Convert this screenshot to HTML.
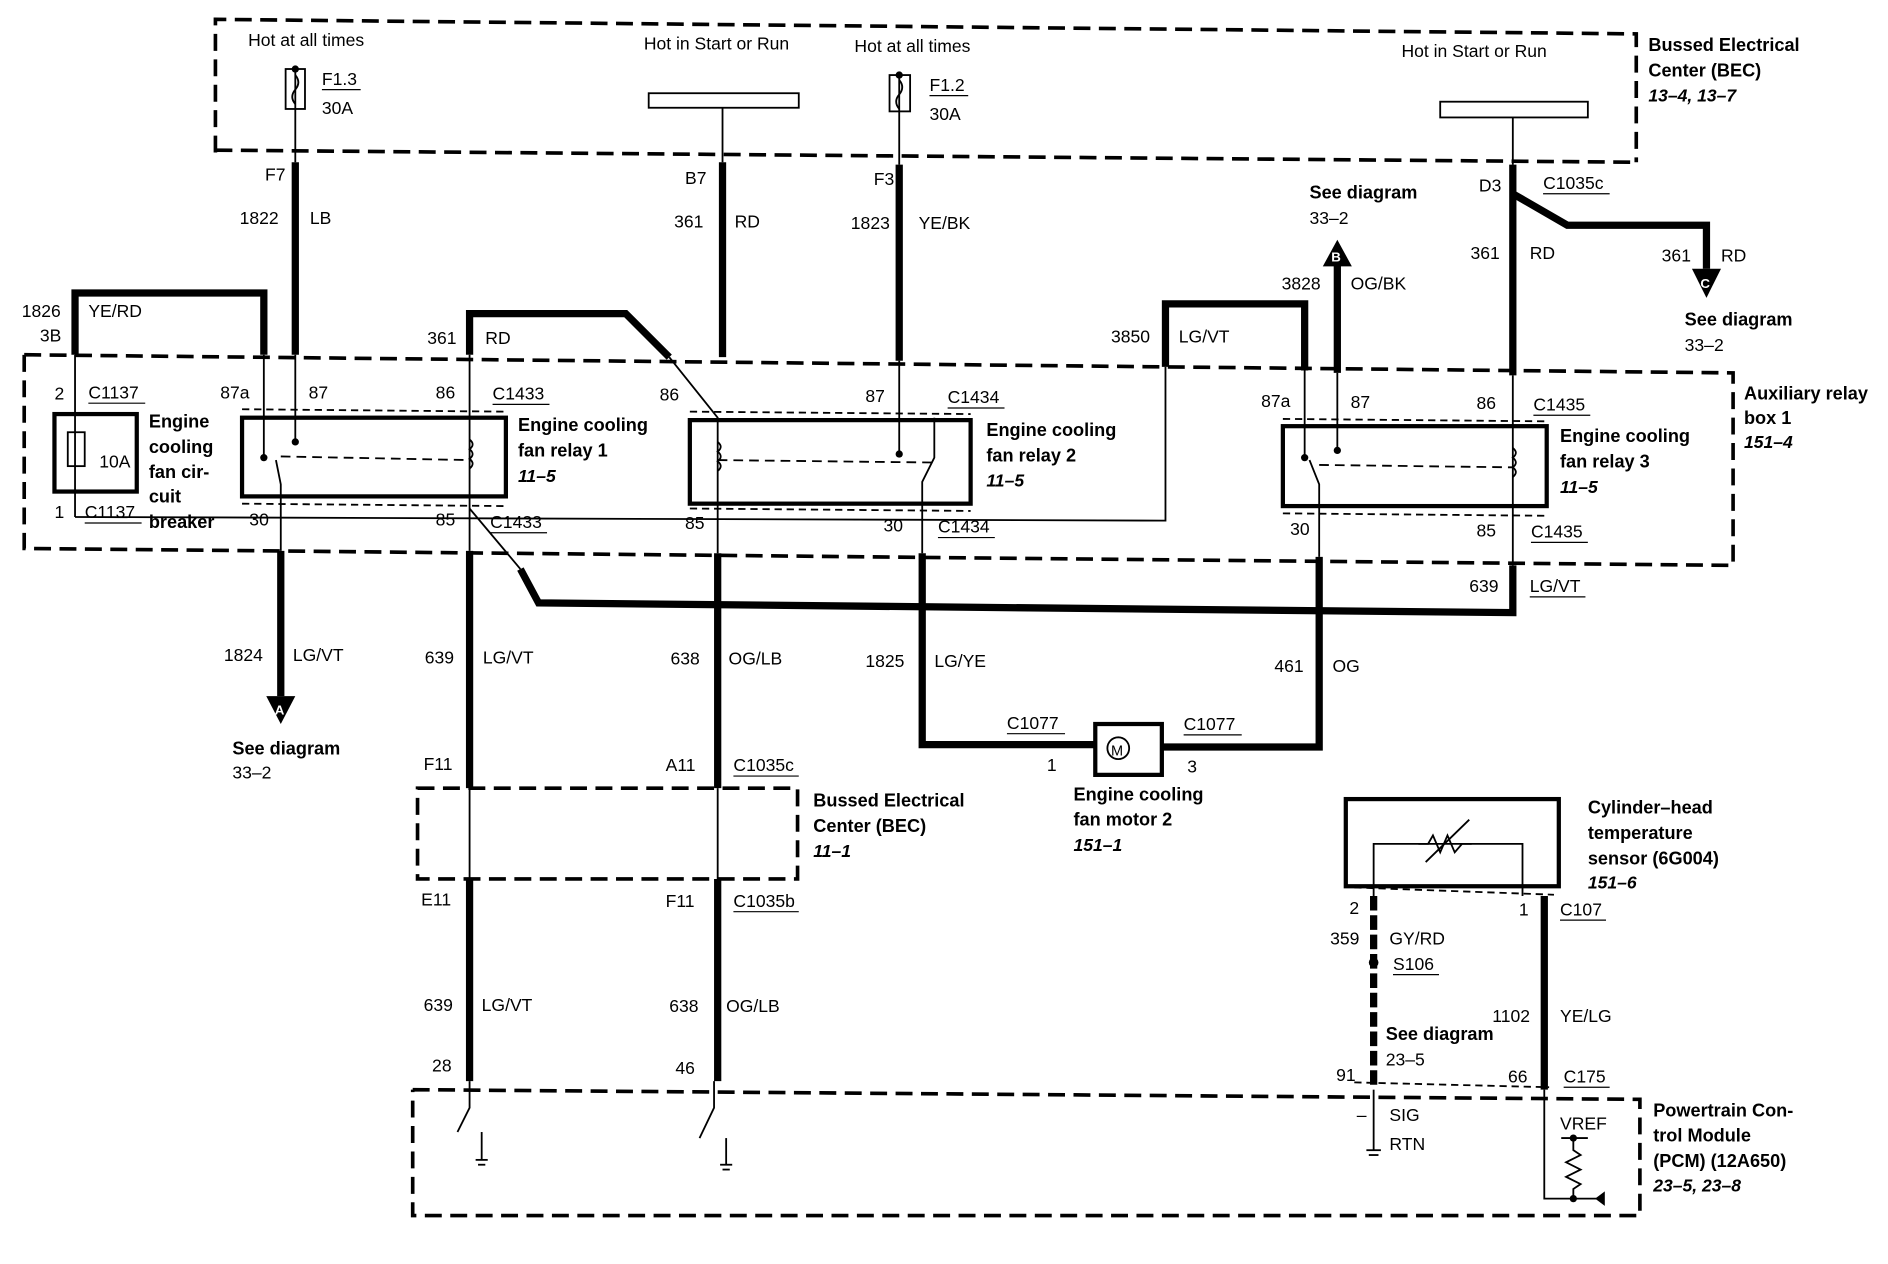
<!DOCTYPE html>
<html><head><meta charset="utf-8"><style>
html,body{margin:0;padding:0;background:#fff;}
svg{display:block;}
text{font-family:"Liberation Sans",sans-serif;font-size:14.5px;fill:#000;}
.b{font-weight:bold;font-size:15px;}
.bi{font-weight:bold;font-style:italic;font-size:14.5px;}
</style></head><body>
<svg width="1888" height="1264" viewBox="0 0 1560 1044" preserveAspectRatio="none" xmlns="http://www.w3.org/2000/svg">
<g fill="none" stroke="#000">
<!-- dashed boxes -->
<g stroke-width="3" stroke-dasharray="14,7">
<polyline points="178,126 178,16 1352,28 1352,134"/>
<polyline points="178,124 1352,134"/>
<polyline points="20,293 1432,308 1432,467 20,453 20,293"/>
<rect x="345" y="651" width="314" height="75"/>
<polyline points="341,900 1355,908 1355,1004 341,1004 341,900"/>
</g>
<!-- thick wires -->
<g stroke-width="6" stroke-linejoin="miter">
<line x1="244" y1="134" x2="244" y2="293"/>
<line x1="597" y1="134" x2="597" y2="295"/>
<line x1="743" y1="136" x2="743" y2="298"/>
<line x1="1250" y1="136" x2="1250" y2="310"/>
<polyline points="1250,160 1295,186 1410,186 1410,222"/>
<polyline points="62,293 62,242 218,242 218,293"/>
<polyline points="388,293 388,259 517,259 553,295"/>
<polyline points="963,303 963,251 1078,251 1078,306"/>
<line x1="1105" y1="218" x2="1105" y2="308"/>
<line x1="232" y1="455" x2="232" y2="575"/>
<line x1="388" y1="455" x2="388" y2="651"/>
<line x1="388" y1="726" x2="388" y2="893"/>
<line x1="593" y1="457" x2="593" y2="651"/>
<line x1="593" y1="726" x2="593" y2="893"/>
<polyline points="430,470 445,498 1250,506 1250,467"/>
<polyline points="762,457 762,615 905,615"/>
<polyline points="960,617 1090,617 1090,460"/>
<line x1="1276" y1="740" x2="1276" y2="900"/>
<line x1="1135" y1="740" x2="1135" y2="900" stroke-dasharray="12,4"/>
</g>
<!-- thin wires -->
<g stroke-width="1.5">
<line x1="244" y1="57" x2="244" y2="134"/>
<line x1="597" y1="89" x2="597" y2="134"/>
<line x1="743" y1="62" x2="743" y2="136"/>
<line x1="1250" y1="97" x2="1250" y2="136"/>
<line x1="244" y1="293" x2="244" y2="365"/>
<line x1="218" y1="293" x2="218" y2="378"/>
<polyline points="228,380 232,400 232,455"/>
<line x1="388" y1="293" x2="388" y2="455"/>
<line x1="62" y1="293" x2="62" y2="427"/>
<polyline points="62,427 963,430 963,303"/>
<polyline points="553,295 593,345 593,457"/>
<line x1="743" y1="298" x2="743" y2="375"/>
<polyline points="772,345 772,378 762,398 762,457"/>
<line x1="1078" y1="306" x2="1078" y2="378"/>
<polyline points="1082,380 1090,400 1090,460"/>
<line x1="1105" y1="308" x2="1105" y2="372"/>
<line x1="1250" y1="310" x2="1250" y2="467"/>
<polyline points="388,420 430,470"/>
<line x1="388" y1="651" x2="388" y2="726"/>
<line x1="593" y1="651" x2="593" y2="726"/>
<polyline points="388,893 388,915 378,935"/>
<polyline points="590,893 590,915 578,940"/>
<line x1="1135" y1="900" x2="1135" y2="950"/>
<polyline points="1276,900 1276,990 1325,990"/>
<polyline points="1135,740 1135,697 1258,697 1258,740"/>
<line x1="1119" y1="733" x2="1284" y2="739" stroke-dasharray="6,4"/>
<line x1="1119" y1="894" x2="1280" y2="898" stroke-dasharray="6,4"/>
<line x1="200" y1="338" x2="418" y2="340" stroke-dasharray="6,4"/>
<line x1="200" y1="416" x2="418" y2="418" stroke-dasharray="6,4"/>
<line x1="570" y1="340" x2="802" y2="342" stroke-dasharray="6,4"/>
<line x1="570" y1="420" x2="802" y2="422" stroke-dasharray="6,4"/>
<line x1="1060" y1="346" x2="1278" y2="348" stroke-dasharray="6,4"/>
<line x1="1060" y1="424" x2="1278" y2="426" stroke-dasharray="6,4"/>
<line x1="232" y1="377" x2="388" y2="380" stroke-dasharray="8,5"/>
<line x1="593" y1="380" x2="770" y2="382" stroke-dasharray="8,5"/>
<line x1="1090" y1="384" x2="1250" y2="386" stroke-dasharray="8,5"/>
</g>
<!-- component boxes -->
<g stroke-width="3.5">
<rect x="200" y="345" width="218" height="65"/>
<rect x="570" y="347" width="232" height="69"/>
<rect x="1060" y="352" width="218" height="66"/>
<rect x="45" y="342" width="68" height="64"/>
<rect x="1112" y="660" width="176" height="72"/>
<rect x="905" y="598" width="55" height="42"/>
</g>
<g stroke-width="1.5">
<rect x="236" y="57" width="16" height="33"/>
<rect x="735" y="62" width="17" height="30"/>
<rect x="536" y="77" width="124" height="12"/>
<rect x="1190" y="84" width="122" height="13"/>
<rect x="56" y="357" width="14" height="28"/>
<circle cx="924" cy="618" r="9"/>
<path d="M244,62 q5,6 0,12 q-5,6 0,12"/>
<path d="M743,66 q5,6 0,12 q-5,6 0,12"/>
<path d="M388,363 q5,4 0,8 q5,4 0,8 q5,4 0,8"/>
<path d="M593,365 q5,4 0,8 q5,4 0,8 q5,4 0,8"/>
<path d="M1250,370 q5,4 0,8 q5,4 0,8 q5,4 0,8"/>
<polyline points="1172,697 1180,697 1184,690 1190,704 1196,690 1202,704 1208,697 1216,697"/>
<line x1="1178" y1="712" x2="1214" y2="677"/>
<polyline points="1300,938 1300,950 1306,954 1294,960 1306,966 1294,972 1306,978 1300,982 1300,990"/>
<line x1="1290" y1="940" x2="1312" y2="940"/>
<line x1="398" y1="935" x2="398" y2="958"/><line x1="393" y1="958" x2="403" y2="958"/><line x1="395" y1="962" x2="401" y2="962"/>
<line x1="600" y1="940" x2="600" y2="962"/><line x1="595" y1="962" x2="605" y2="962"/><line x1="597" y1="966" x2="603" y2="966"/>
<line x1="1129" y1="950" x2="1141" y2="950"/><line x1="1131" y1="954" x2="1139" y2="954"/>
</g>
</g>
<!-- arrows / dots -->
<g fill="#000">
<polygon points="220,575 244,575 232,598"/>
<polygon points="1093,220 1117,220 1105,198"/>
<polygon points="1398,222 1422,222 1410,246"/>
<circle cx="244" cy="57" r="3"/><circle cx="743" cy="62" r="3"/>
<circle cx="244" cy="365" r="3"/><circle cx="743" cy="375" r="3"/><circle cx="1105" cy="372" r="3"/>
<circle cx="218" cy="378" r="3"/><circle cx="1078" cy="378" r="3"/>
<circle cx="1135" cy="795" r="4"/>
<circle cx="1300" cy="940" r="3"/><circle cx="1300" cy="990" r="3"/>
<polygon points="1318,990 1326,984 1326,996"/>
</g>
<g font-size="12" fill="#fff" font-weight="bold">
<text x="227" y="590" style="fill:#fff;font-size:11px;font-weight:bold">A</text>
<text x="1100" y="216" style="fill:#fff;font-size:11px;font-weight:bold">B</text>
<text x="1405" y="238" style="fill:#fff;font-size:11px;font-weight:bold">C</text>
</g>
<text x="918" y="624" style="font-size:12px">M</text>
<!-- labels -->
<text x="205" y="38">Hot at all times</text>
<text x="532" y="41">Hot in Start or Run</text>
<text x="706" y="43">Hot at all times</text>
<text x="1158" y="47">Hot in Start or Run</text>
<text x="266" y="70">F1.3</text><text x="266" y="94">30A</text>
<text x="768" y="75">F1.2</text><text x="768" y="99">30A</text>
<text class="b" x="1362" y="42">Bussed Electrical</text>
<text class="b" x="1362" y="63">Center (BEC)</text>
<text class="bi" x="1362" y="84">13–4, 13–7</text>
<text x="219" y="149">F7</text><text x="566" y="152">B7</text><text x="722" y="153">F3</text><text x="1222" y="158">D3</text>
<text x="1275" y="156">C1035c</text>
<text x="198" y="185">1822</text><text x="256" y="185">LB</text>
<text x="557" y="188">361</text><text x="607" y="188">RD</text>
<text x="703" y="189">1823</text><text x="759" y="189">YE/BK</text>
<text class="b" x="1082" y="164">See diagram</text><text x="1082" y="185">33–2</text>
<text x="1215" y="214">361</text><text x="1264" y="214">RD</text>
<text x="1373" y="216">361</text><text x="1422" y="216">RD</text>
<text class="b" x="1392" y="269">See diagram</text><text x="1392" y="290">33–2</text>
<text x="1059" y="239">3828</text><text x="1116" y="239">OG/BK</text>
<text x="18" y="262">1826</text><text x="73" y="262">YE/RD</text><text x="33" y="282">3B</text>
<text x="353" y="284">361</text><text x="401" y="284">RD</text>
<text x="918" y="283">3850</text><text x="974" y="283">LG/VT</text>
<text x="45" y="330">2</text><text x="73" y="329">C1137</text>
<text x="182" y="329">87a</text><text x="255" y="329">87</text><text x="360" y="329">86</text><text x="407" y="330">C1433</text>
<text x="545" y="331">86</text><text x="715" y="332">87</text><text x="783" y="333">C1434</text>
<text x="1042" y="336">87a</text><text x="1116" y="337">87</text><text x="1220" y="338">86</text><text x="1267" y="339">C1435</text>
<text class="b" x="1441" y="330">Auxiliary relay</text><text class="b" x="1441" y="350">box 1</text><text class="bi" x="1441" y="370">151–4</text>
<text class="b" x="123" y="353">Engine</text><text class="b" x="123" y="374">cooling</text><text class="b" x="123" y="395">fan cir-</text><text class="b" x="123" y="415">cuit</text><text class="b" x="123" y="436">breaker</text>
<text x="82" y="386">10A</text>
<text class="b" x="428" y="356">Engine cooling</text><text class="b" x="428" y="377">fan relay 1</text><text class="bi" x="428" y="398">11–5</text>
<text class="b" x="815" y="360">Engine cooling</text><text class="b" x="815" y="381">fan relay 2</text><text class="bi" x="815" y="402">11–5</text>
<text class="b" x="1289" y="365">Engine cooling</text><text class="b" x="1289" y="386">fan relay 3</text><text class="bi" x="1289" y="407">11–5</text>
<text x="45" y="428">1</text><text x="70" y="428">C1137</text>
<text x="206" y="434">30</text><text x="360" y="434">85</text><text x="405" y="436">C1433</text>
<text x="566" y="437">85</text><text x="730" y="439">30</text><text x="775" y="440">C1434</text>
<text x="1066" y="442">30</text><text x="1220" y="443">85</text><text x="1265" y="444">C1435</text>
<text x="1214" y="489">639</text><text x="1264" y="489">LG/VT</text>
<text x="185" y="546">1824</text><text x="242" y="546">LG/VT</text>
<text x="351" y="548">639</text><text x="399" y="548">LG/VT</text>
<text x="554" y="549">638</text><text x="602" y="549">OG/LB</text>
<text x="715" y="551">1825</text><text x="772" y="551">LG/YE</text>
<text x="1053" y="555">461</text><text x="1101" y="555">OG</text>
<text class="b" x="192" y="623">See diagram</text><text x="192" y="643">33–2</text>
<text x="832" y="602">C1077</text><text x="978" y="603">C1077</text>
<text x="865" y="637">1</text><text x="981" y="638">3</text>
<text class="b" x="887" y="661">Engine cooling</text><text class="b" x="887" y="682">fan motor 2</text><text class="bi" x="887" y="703">151–1</text>
<text x="350" y="636">F11</text><text x="550" y="637">A11</text><text x="606" y="637">C1035c</text>
<text class="b" x="672" y="666">Bussed Electrical</text><text class="b" x="672" y="687">Center (BEC)</text><text class="bi" x="672" y="708">11–1</text>
<text class="b" x="1312" y="672">Cylinder–head</text><text class="b" x="1312" y="693">temperature</text><text class="b" x="1312" y="714">sensor (6G004)</text><text class="bi" x="1312" y="734">151–6</text>
<text x="348" y="748">E11</text><text x="550" y="749">F11</text><text x="606" y="749">C1035b</text>
<text x="1115" y="755">2</text><text x="1255" y="756">1</text><text x="1289" y="756">C107</text>
<text x="1099" y="780">359</text><text x="1148" y="780">GY/RD</text><text x="1151" y="801">S106</text>
<text x="350" y="835">639</text><text x="398" y="835">LG/VT</text>
<text x="553" y="836">638</text><text x="600" y="836">OG/LB</text>
<text x="1233" y="844">1102</text><text x="1289" y="844">YE/LG</text>
<text class="b" x="1145" y="859">See diagram</text><text x="1145" y="880">23–5</text>
<text x="357" y="885">28</text><text x="558" y="887">46</text>
<text x="1104" y="893">91</text><text x="1246" y="894">66</text><text x="1292" y="894">C175</text>
<text x="1148" y="926">SIG</text><text x="1148" y="950">RTN</text><text x="1121" y="926">–</text>
<text x="1289" y="933">VREF</text>
<text class="b" x="1366" y="922">Powertrain Con-</text><text class="b" x="1366" y="943">trol Module</text><text class="b" x="1366" y="964">(PCM) (12A650)</text><text class="bi" x="1366" y="984">23–5, 23–8</text>
<g stroke="#000" stroke-width="1">
<line x1="266" y1="74" x2="298" y2="74"/><line x1="768" y1="79" x2="800" y2="79"/>
<line x1="1275" y1="160" x2="1330" y2="160"/>
<line x1="73" y1="333" x2="120" y2="333"/><line x1="70" y1="432" x2="117" y2="432"/>
<line x1="407" y1="334" x2="454" y2="334"/><line x1="405" y1="440" x2="452" y2="440"/>
<line x1="783" y1="337" x2="830" y2="337"/><line x1="775" y1="444" x2="822" y2="444"/>
<line x1="1267" y1="343" x2="1314" y2="343"/><line x1="1265" y1="448" x2="1312" y2="448"/>
<line x1="1264" y1="493" x2="1310" y2="493"/>
<line x1="832" y1="606" x2="880" y2="606"/><line x1="978" y1="607" x2="1026" y2="607"/>
<line x1="606" y1="641" x2="660" y2="641"/><line x1="606" y1="753" x2="660" y2="753"/>
<line x1="1289" y1="760" x2="1327" y2="760"/><line x1="1151" y1="805" x2="1189" y2="805"/>
<line x1="1292" y1="898" x2="1330" y2="898"/>
</g>
</svg>
</body></html>
